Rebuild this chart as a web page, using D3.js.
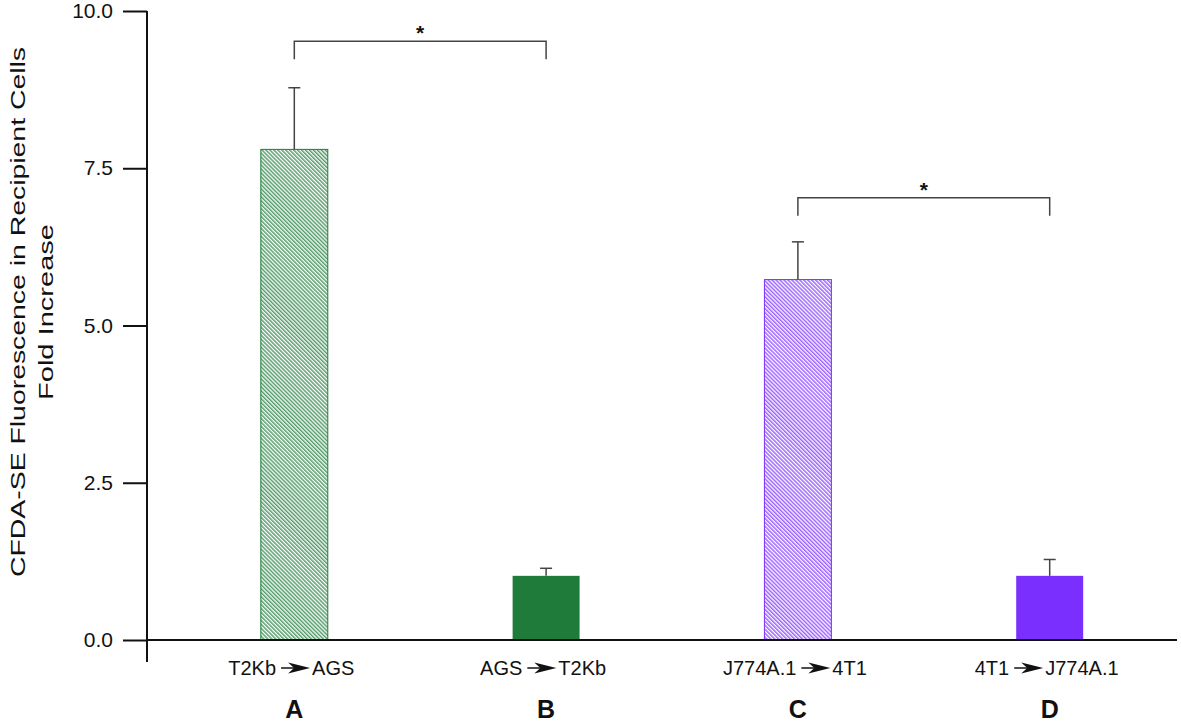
<!DOCTYPE html>
<html>
<head>
    <script src="https://d3js.org/d3.v7.min.js"></script>
    <style>
        body { margin: 0; background: #fff; }
        svg { display: block; }
        text { font-family: Arial, "Liberation Sans", sans-serif; fill: #111; }
    </style>
</head>
<body>
    <svg></svg>
    <script>
        // Datos
        const categories = ["T2Kb|AGS", "AGS |T2Kb", "J774A.1|4T1", "4T1 |J774A.1"];
        const letters = ["A", "B", "C", "D"];
        const means = [7.8, 1.02, 5.73, 1.02];
        const errors = [0.98, 0.12, 0.6, 0.26];
        const hatched = [true, false, true, false];
        const colors = ["#1e7b3a", "#1e7b3a", "#7b2fff", "#7b2fff"];
        const yTicks = [0, 2.5, 5, 7.5, 10];
        const brackets = [[0, 1, 9.52], [2, 3, 7.03]];

        const width = 1181, height = 725;
        const svg = d3.select("svg").attr("width", width).attr("height", height);

        const x = d3.scaleBand().domain(categories).range([76, 1268]).padding(0.734);
        const y = d3.scaleLinear().domain([0, 10]).range([640, 11]);

        // Patrones rayados
        const defs = svg.append("defs");
        colors.forEach((c, i) => {
            if (!hatched[i]) return;
            const p = defs.append("pattern")
                .attr("id", "hatch" + i)
                .attr("patternUnits", "userSpaceOnUse")
                .attr("width", 2.8).attr("height", 2.8)
                .attr("patternTransform", "rotate(-45)");
            p.append("rect").attr("width", 2.8).attr("height", 2.8).attr("fill", "#fff");
            p.append("rect").attr("width", 1.5).attr("height", 2.8).attr("fill", c).attr("opacity", 0.75);
        });

        // Barras
        const bars = svg.append("g");
        bars.selectAll("rect")
            .data(categories)
            .join("rect")
            .attr("x", d => x(d))
            .attr("y", (d, i) => y(means[i]))
            .attr("width", x.bandwidth())
            .attr("height", (d, i) => y(0) - y(means[i]))
            .attr("fill", (d, i) => hatched[i] ? `url(#hatch${i})` : colors[i])
            .attr("stroke", (d, i) => hatched[i] ? colors[i] : "none")
            .attr("stroke-width", 1);

        // Barras de error
        const err = svg.append("g").attr("stroke", "#444").attr("stroke-width", 1.5);
        categories.forEach((d, i) => {
            const cx = x(d) + x.bandwidth() / 2;
            err.append("line")
                .attr("x1", cx).attr("x2", cx)
                .attr("y1", y(means[i])).attr("y2", y(means[i] + errors[i]));
            err.append("line")
                .attr("x1", cx - 6).attr("x2", cx + 6)
                .attr("y1", y(means[i] + errors[i])).attr("y2", y(means[i] + errors[i]));
        });

        // Corchetes de significancia
        brackets.forEach(([a, b, v]) => {
            const x1 = x(categories[a]) + x.bandwidth() / 2;
            const x2 = x(categories[b]) + x.bandwidth() / 2;
            const yy = y(v);
            svg.append("path")
                .attr("d", `M${x1},${yy + 18}V${yy}H${x2}V${yy + 18}`)
                .attr("fill", "none")
                .attr("stroke", "#444")
                .attr("stroke-width", 1.5);
            svg.append("text")
                .attr("x", (x1 + x2) / 2)
                .attr("y", yy - 1)
                .attr("text-anchor", "middle")
                .attr("font-size", 21)
                .attr("font-weight", "bold")
                .text("*");
        });

        // Eje Y
        const yAxis = svg.append("g")
            .attr("transform", "translate(147,0)")
            .call(d3.axisLeft(y).tickValues(yTicks).tickFormat(d3.format(".1f")).tickSize(24).tickPadding(10));
        yAxis.select(".domain").remove();
        yAxis.selectAll(".tick line").attr("stroke", "#111").attr("stroke-width", 2);
        yAxis.selectAll(".tick text").attr("font-size", 21).attr("fill", "#111")
            .attr("font-family", "Arial, 'Liberation Sans', sans-serif");
        svg.append("line")
            .attr("x1", 147).attr("x2", 147)
            .attr("y1", y(10)).attr("y2", 662)
            .attr("stroke", "#111").attr("stroke-width", 2);

        // Eje X
        svg.append("line")
            .attr("x1", 146).attr("x2", 1177)
            .attr("y1", y(0)).attr("y2", y(0))
            .attr("stroke", "#111").attr("stroke-width", 2);

        // Etiquetas con flecha
        const arrowHead = "M0,-5.5L22,0L0,5.5L6,0Z";
        categories.forEach((d, i) => {
            const cx = x(d) + x.bandwidth() / 2;
            const [left, right] = d.split("|");
            const g = svg.append("g");
            const t1 = g.append("text").attr("y", 675).attr("font-size", 20).attr("text-anchor", "end").text(left);
            const t2 = g.append("text").attr("y", 675).attr("font-size", 20).text(right);
            const w1 = t1.node().getComputedTextLength();
            const w2 = t2.node().getComputedTextLength();
            const gap = 36;
            const total = w1 + gap + w2;
            const start = cx - total / 2 - 3;
            t1.attr("x", start + w1);
            t2.attr("x", start + w1 + gap);
            g.append("line")
                .attr("x1", start + w1 + 5).attr("x2", start + w1 + 18)
                .attr("y1", 668).attr("y2", 668)
                .attr("stroke", "#111").attr("stroke-width", 1.5);
            g.append("path")
                .attr("d", arrowHead)
                .attr("transform", `translate(${start + w1 + 12},668)`)
                .attr("fill", "#111");

            svg.append("text")
                .attr("x", cx).attr("y", 718)
                .attr("text-anchor", "middle")
                .attr("font-size", 25)
                .attr("font-weight", "bold")
                .text(letters[i]);
        });

        // Título del eje Y
        const yl = svg.append("text")
            .attr("transform", `translate(0,312) rotate(-90)`)
            .attr("text-anchor", "middle")
            .attr("font-size", 21);
        yl.append("tspan").attr("x", 0).attr("y", 25)
            .attr("textLength", 530).attr("lengthAdjust", "spacingAndGlyphs")
            .text("CFDA-SE Fluorescence in Recipient Cells");
        yl.append("tspan").attr("x", 0).attr("y", 53)
            .attr("textLength", 176).attr("lengthAdjust", "spacingAndGlyphs")
            .text("Fold Increase");
    </script>
</body>
</html>
